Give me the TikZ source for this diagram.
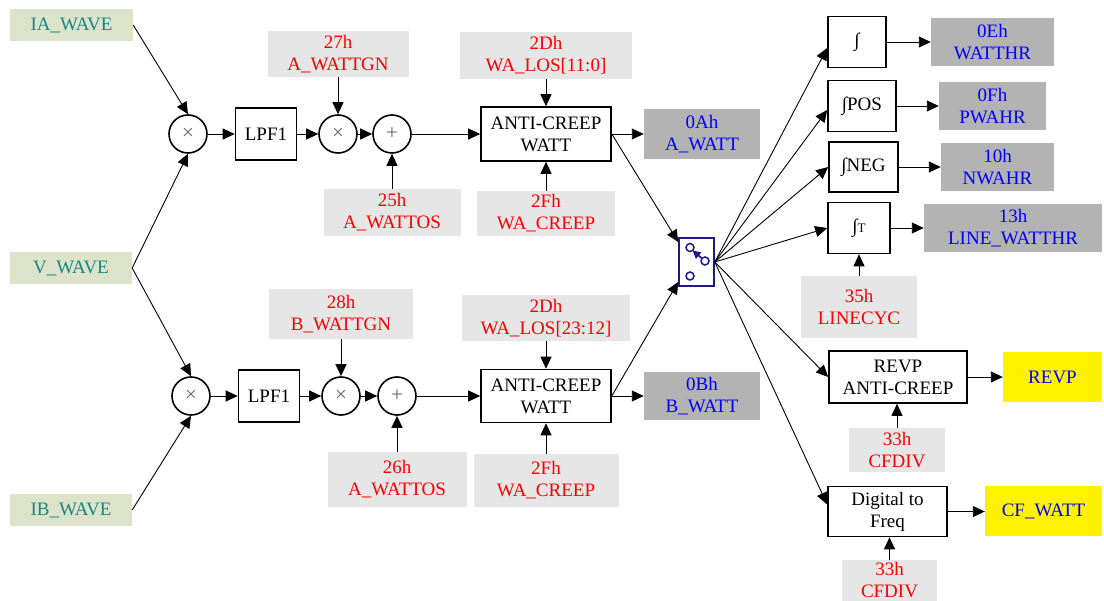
\documentclass[tikz,border=0pt]{standalone}
\usepackage{fontspec}
\setmainfont{Liberation Serif}
\usetikzlibrary{arrows.meta,calc}
\definecolor{lblgray}{HTML}{E6E6E6}
\definecolor{outgray}{HTML}{B3B3B3}
\definecolor{ingreen}{HTML}{DDE2CB}
\definecolor{inteal}{HTML}{14897F}
\definecolor{swnavy}{HTML}{1A1A8C}
\begin{document}
\begin{tikzpicture}[x=1pt,y=-1pt,
 every node/.style={font=\fontsize{19}{22}\selectfont, inner sep=0pt, align=center},
 sz/.style 2 args={minimum width=#1, minimum height=#2},
 inbox/.style={fill=ingreen, text=inteal},
 lbl/.style={fill=lblgray, text=red},
 outbox/.style={fill=outgray, text=blue},
 ybox/.style={fill=yellow, text=blue},
 blk/.style={draw, line width=1.6pt, fill=white},
 op/.style={circle, draw, line width=1.6pt, minimum size=38pt, font=\fontsize{21}{21}\selectfont, text=black!60},
 conn/.style={line width=0.9pt, -{Triangle[length=12pt,width=11pt]}},
]
\useasboundingbox (0,0) rectangle (1104,601);

% inputs
\node[inbox, sz={123}{32}] (ia) at (71.5,25) {IA\_WAVE};
\node[inbox, sz={122}{32}] (va) at (71,268) {V\_WAVE};
\node[inbox, sz={122}{32}] (ib) at (71,510) {IB\_WAVE};

% top chain
\node[op] (m1) at (188,134) {×};
\node[blk, sz={61}{52}] (lp1) at (266,134) {LPF1};
\node[op] (g1) at (338,134) {×};
\node[op] (a1) at (392,134) {+};
\node[lbl, sz={141}{46}] (gn1) at (338,54) {27h\\A\_WATTGN};
\node[lbl, sz={137}{47}] (os1) at (392,212.5) {25h\\A\_WATTOS};
\node[blk, sz={130}{54}] (ac1) at (546,134) {ANTI-CREEP\\WATT};
\node[lbl, sz={172}{47}] (los1) at (546,55.5) {2Dh\\WA\_LOS[11:0]};
\node[lbl, sz={138}{45}] (cr1) at (546,213.5) {2Fh\\WA\_CREEP};
\node[outbox, sz={116}{50}] (aw) at (702,134) {0Ah\\A\_WATT};

% bottom chain
\node[op] (m2) at (191,396) {×};
\node[blk, sz={61}{52}] (lp2) at (269,396) {LPF1};
\node[op] (g2) at (341,396) {×};
\node[op] (a2) at (397,396) {+};
\node[lbl, sz={144}{50}] (gn2) at (341,314) {28h\\B\_WATTGN};
\node[lbl, sz={139}{55}] (os2) at (397,479.5) {26h\\A\_WATTOS};
\node[blk, sz={130}{53}] (ac2) at (546,396) {ANTI-CREEP\\WATT};
\node[lbl, sz={168}{46}] (los2) at (546,318) {2Dh\\WA\_LOS[23:12]};
\node[lbl, sz={145}{53}] (cr2) at (546,480.5) {2Fh\\WA\_CREEP};
\node[outbox, sz={116}{48}] (bw) at (702,396) {0Bh\\B\_WATT};

% switch
\node[draw=swnavy, line width=1.6pt, sz={35}{48}] (sw) at (696.5,262) {};
\draw[swnavy, line width=1.5pt] (690,247.5) circle[radius=4pt] (705,261) circle[radius=4pt] (690,276) circle[radius=4pt];
\draw[swnavy, line width=1.8pt, -{Triangle[length=8pt,width=8pt]}] (701.5,258) -- (692.5,250.5);

% right side blocks
\node[blk, sz={58}{51}] (i1) at (857,42) {∫};
\node[blk, sz={68}{51}] (i2) at (862,106) {∫POS};
\node[blk, sz={69}{50}] (i3) at (863.5,167) {∫NEG};
\node[blk, sz={62}{51}] (i4) at (859,228) {∫{\fontsize{13}{13}\selectfont T}};
\node[blk, sz={138}{52}] (rv) at (898,377) {REVP\\ANTI-CREEP};
\node[blk, sz={119}{50}] (df) at (887.5,511.5) {Digital to\\Freq};

\node[outbox, sz={123}{48}] (o1) at (992.5,42) {0Eh\\WATTHR};
\node[outbox, sz={107}{48}] (o2) at (992.5,106) {0Fh\\PWAHR};
\node[outbox, sz={113}{48}] (o3) at (997.5,167) {10h\\NWAHR};
\node[outbox, sz={178}{48}] (o4) at (1013,228) {13h\\LINE\_WATTHR};
\node[lbl, sz={116}{62}] (lc) at (859,307) {35h\\LINECYC};
\node[ybox, sz={99}{50}] (rp) at (1052.5,377) {REVP};
\node[lbl, sz={96}{44}] (cf1) at (897,450) {33h\\CFDIV};
\node[ybox, sz={117}{50}] (cw) at (1043.5,511.5) {CF\_WATT};
\node[lbl, sz={95}{41}] (cf2) at (889.5,580.5) {33h\\CFDIV};

% connectors: inputs
\draw[conn] (ia.east) -- (m1.north);
\draw[conn] (va.east) -- (m1.south);
\draw[conn] (va.east) -- (m2.north);
\draw[conn] (ib.east) -- (m2.south);

% top chain
\draw[conn] (m1.east) -- (lp1.west);
\draw[conn] (lp1.east) -- (g1.west);
\draw[conn] (g1.east) -- (a1.west);
\draw[conn] (a1.east) -- (ac1.west);
\draw[conn] (gn1.south) -- (g1.north);
\draw[conn] (os1.north) -- (a1.south);
\draw[conn] (los1.south) -- (ac1.north);
\draw[conn] (cr1.north) -- (ac1.south);
\draw[conn] (ac1.east) -- (aw.west);
\draw[conn] (ac1.east) -- ($(sw.west)+(0,-20)$);

% bottom chain
\draw[conn] (m2.east) -- (lp2.west);
\draw[conn] (lp2.east) -- (g2.west);
\draw[conn] (g2.east) -- (a2.west);
\draw[conn] (a2.east) -- (ac2.west);
\draw[conn] (gn2.south) -- (g2.north);
\draw[conn] (os2.north) -- (a2.south);
\draw[conn] (los2.south) -- (ac2.north);
\draw[conn] (cr2.north) -- (ac2.south);
\draw[conn] (ac2.east) -- (bw.west);
\draw[conn] (ac2.east) -- ($(sw.west)+(0,20)$);

% fan out
\draw[conn] (sw.east) -- ($(i1.west)+(0,6)$);
\draw[conn] (sw.east) -- ($(i2.west)+(0,4)$);
\draw[conn] (sw.east) -- (i3.west);
\draw[conn] (sw.east) -- (i4.west);
\draw[conn] (sw.east) -- (rv.west);
\draw[conn] (sw.east) -- ($(df.west)+(0,-7)$);

% outputs
\draw[conn] (i1.east) -- (o1.west);
\draw[conn] (i2.east) -- (o2.west);
\draw[conn] (i3.east) -- (o3.west);
\draw[conn] (i4.east) -- (o4.west);
\draw[conn] (lc.north) -- (i4.south);
\draw[conn] (rv.east) -- (rp.west);
\draw[conn] (cf1.north) -- (cf1.north |- rv.south);
\draw[conn] (df.east) -- (cw.west);
\draw[conn] (cf2.north) -- (cf2.north |- df.south);
\end{tikzpicture}
\end{document}
